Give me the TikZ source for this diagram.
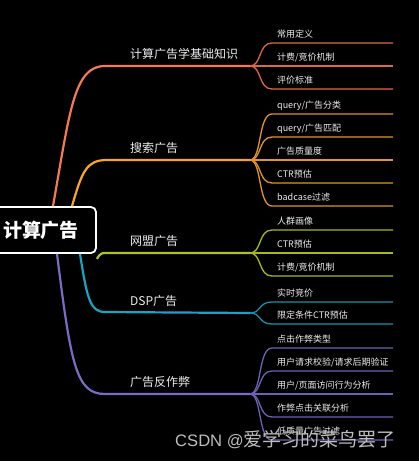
\documentclass[tikz,border=0pt]{standalone}
\usepackage{fontspec}
\setmainfont{Noto Sans CJK SC}
\newfontfamily\wmlatin{Liberation Sans}
\definecolor{cA}{HTML}{F47A55}
\definecolor{cAl}{HTML}{D96A48}
\definecolor{cB}{HTML}{F7A62A}
\definecolor{cBl}{HTML}{E0962A}
\definecolor{cC}{HTML}{B4C21E}
\definecolor{cCl}{HTML}{A8B81E}
\definecolor{cD}{HTML}{18A4C4}
\definecolor{cDl}{HTML}{1592AE}
\definecolor{cE}{HTML}{7A6CC2}
\definecolor{cEl}{HTML}{6C62B4}
\definecolor{labelgray}{HTML}{EDEDED}
\definecolor{wmgray}{HTML}{BDBDBD}
\begin{document}
\begin{tikzpicture}[x=1pt,y=-1pt,
  mainline/.style={line width=2.2pt},
  leafline/.style={line width=1.3pt},
  mainlabel/.style={anchor=base west, inner sep=0pt, text=labelgray, font=\fontsize{12}{12}\selectfont},
  leaflabel/.style={anchor=base west, inner sep=0pt, text=labelgray, font=\fontsize{9}{9}\selectfont},
  rootbox/.style={draw=white, line width=1.8pt, rounded corners=5pt, fill=black, text=white,
    minimum width=101pt, minimum height=46pt, inner sep=0pt, font=\bfseries\fontsize{19}{19}\selectfont}]
\fill[black] (0,0) rectangle (419,461);
\useasboundingbox (0,0) rectangle (419,461);
\clip (0,0) rectangle (419,461);

% fork points
\coordinate (fA) at (250,66);
\coordinate (fB) at (250,160);
\coordinate (fC) at (250,253);
\coordinate (fD) at (250,313);
\coordinate (fE) at (250,394);

% main branches
\node[rootbox] (root) at (45.5,230) {\hspace*{-9pt}计算广告};

\draw[mainline,cA] ([xshift=7.5pt]root.north) .. controls (70,110) and (74,66) .. (105,66) -- (fA);
\draw[mainline,cB] ([xshift=26.5pt]root.north) .. controls (82,172) and (86,160) .. (107,160) -- (fB);
\draw[mainline,cC] ([yshift=-5pt]root.south east) .. controls (101,252) and (102,253) .. (110,253) -- (fC);
\draw[mainline,cD] ([xshift=34.5pt]root.south) .. controls (87,298) and (90,312) .. (105,312) -- (fD);
\draw[mainline,cE] ([xshift=11.5pt]root.south) .. controls (71,365) and (76,394) .. (105,394) -- (fE);

\node[mainlabel] (mA) at (130,58.5) {计算广告学基础知识};
\node[mainlabel] (mB) at (130,152.5) {搜索广告};
\node[mainlabel] (mC) at (130,245.5) {网盟广告};
\node[mainlabel] (mD) at (130,305) {DSP广告};
\node[mainlabel] (mE) at (130,386.5) {广告反作弊};

% leaves
\foreach \y/\t [count=\i] in {43/{常用定义}, 66/{计费/竞价机制}, 89/{评价标准}}{
  \coordinate (sA\i) at (272,\y); \coordinate (eA\i) at (393,\y);
  \draw[leafline,cAl] (fA) .. controls +(12,0) and +(-14,0) .. (sA\i) -- (eA\i);
  \node[leaflabel] (tA\i) at (277,\y-6) {\t};
}
\foreach \y/\t [count=\i] in {114/{query/广告分类}, 137/{query/广告匹配}, 160/{广告质量度}, 183/{CTR预估}, 206/{badcase过滤}}{
  \coordinate (sB\i) at (272,\y); \coordinate (eB\i) at (393,\y);
  \draw[leafline,cBl] (fB) .. controls +(12,0) and +(-14,0) .. (sB\i) -- (eB\i);
  \node[leaflabel] (tB\i) at (277,\y-6) {\t};
}
\foreach \y/\t [count=\i] in {230/{人群画像}, 253/{CTR预估}, 276/{计费/竞价机制}}{
  \coordinate (sC\i) at (272,\y); \coordinate (eC\i) at (393,\y);
  \draw[leafline,cCl] (fC) .. controls +(12,0) and +(-14,0) .. (sC\i) -- (eC\i);
  \node[leaflabel] (tC\i) at (277,\y-6) {\t};
}
\foreach \y/\t [count=\i] in {302/{实时竞价}, 324/{限定条件CTR预估}}{
  \coordinate (sD\i) at (272,\y); \coordinate (eD\i) at (393,\y);
  \draw[leafline,cDl] (fD) .. controls +(12,0) and +(-14,0) .. (sD\i) -- (eD\i);
  \node[leaflabel] (tD\i) at (277,\y-6) {\t};
}
\foreach \y/\t [count=\i] in {348/{点击作弊类型}, 371/{用户请求校验/请求后期验证}, 394/{用户/页面访问行为分析}, 417/{作弊点击关联分析}, 440/{低质量广告过滤}}{
  \coordinate (sE\i) at (272,\y); \coordinate (eE\i) at (393,\y);
  \draw[leafline,cEl] (fE) .. controls +(12,0) and +(-14,0) .. (sE\i) -- (eE\i);
  \node[leaflabel] (tE\i) at (277,\y-6) {\t};
}

% watermark
\node[anchor=base west, inner sep=0pt, text=wmgray, font=\fontsize{19}{19}\selectfont] (wm) at (175,446)
  {{\wmlatin\fontsize{16.6}{17}\selectfont CSDN @}爱学习的菜鸟罢了};
\end{tikzpicture}
\end{document}
